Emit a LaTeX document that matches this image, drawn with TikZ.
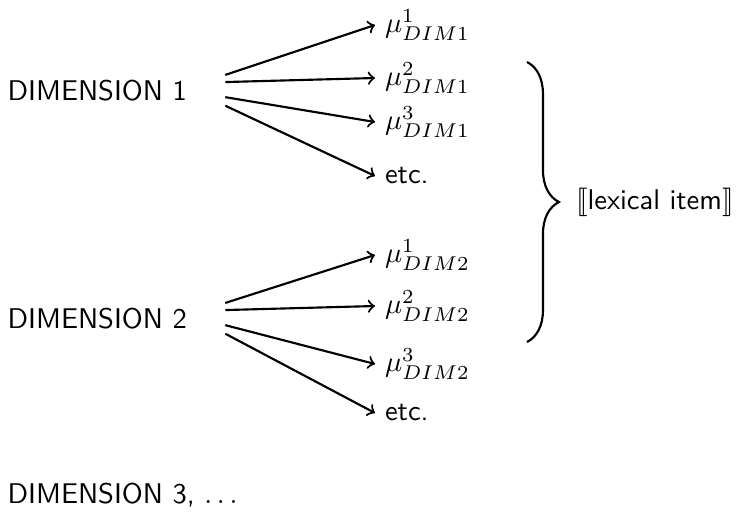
\documentclass[tikz,border=0pt]{standalone}
\usepackage{stmaryrd}
\usetikzlibrary{decorations.pathreplacing}
\begin{document}
\begin{tikzpicture}[x=0.3509pt, y=-0.3509pt, font=\sffamily,
  plainlabel/.style={inner sep=0pt, anchor=base west},
  dimlabel/.style={plainlabel, text width=76.2pt, align=left},
  meaning/.style={anchor=west},
  arr/.style={->, line width=0.75pt},
  bracestyle/.style={decorate, decoration={brace, amplitude=11.2pt}, line width=0.75pt}]
\useasboundingbox (0,0) rectangle (737,521);
% dimension labels
\node[dimlabel] (dim1) at (7,100) {DIMENSION 1};
\node[dimlabel] (dim2) at (7,328) {DIMENSION 2};
\node[plainlabel] (dim3) at (7,503) {DIMENSION 3, $\ldots$};
% meanings of dimension 1
\node[meaning] (m11) at (375,25) {$\mu^1_{DIM1}$};
\node[meaning] (m12) at (375,78) {$\mu^2_{DIM1}$};
\node[meaning] (m13) at (375,122) {$\mu^3_{DIM1}$};
\node[meaning] (e1) at (375,176) {etc.};
% meanings of dimension 2
\node[meaning] (m21) at (375,255) {$\mu^1_{DIM2}$};
\node[meaning] (m22) at (375,306) {$\mu^2_{DIM2}$};
\node[meaning] (m23) at (375,364) {$\mu^3_{DIM2}$};
\node[meaning] (e2) at (375,413) {etc.};
% arrows
\draw[arr] ([yshift=8.8pt]dim1.base east) -- (m11.west);
\draw[arr] ([yshift=6.3pt]dim1.base east) -- (m12.west);
\draw[arr] ([yshift=1pt]dim1.base east) -- (m13.west);
\draw[arr] ([yshift=-2pt]dim1.base east) -- (e1.west);
\draw[arr] ([yshift=8.8pt]dim2.base east) -- (m21.west);
\draw[arr] ([yshift=6.3pt]dim2.base east) -- (m22.west);
\draw[arr] ([yshift=1pt]dim2.base east) -- (m23.west);
\draw[arr] ([yshift=-2pt]dim2.base east) -- (e2.west);
% brace
\coordinate (btop) at (527,62);
\coordinate (bbot) at (527,342);
\draw[bracestyle] (btop) -- (bbot);
\node[anchor=west] (lex) at (566,202) {$\llbracket$lexical item$\rrbracket$};
\end{tikzpicture}
\end{document}
